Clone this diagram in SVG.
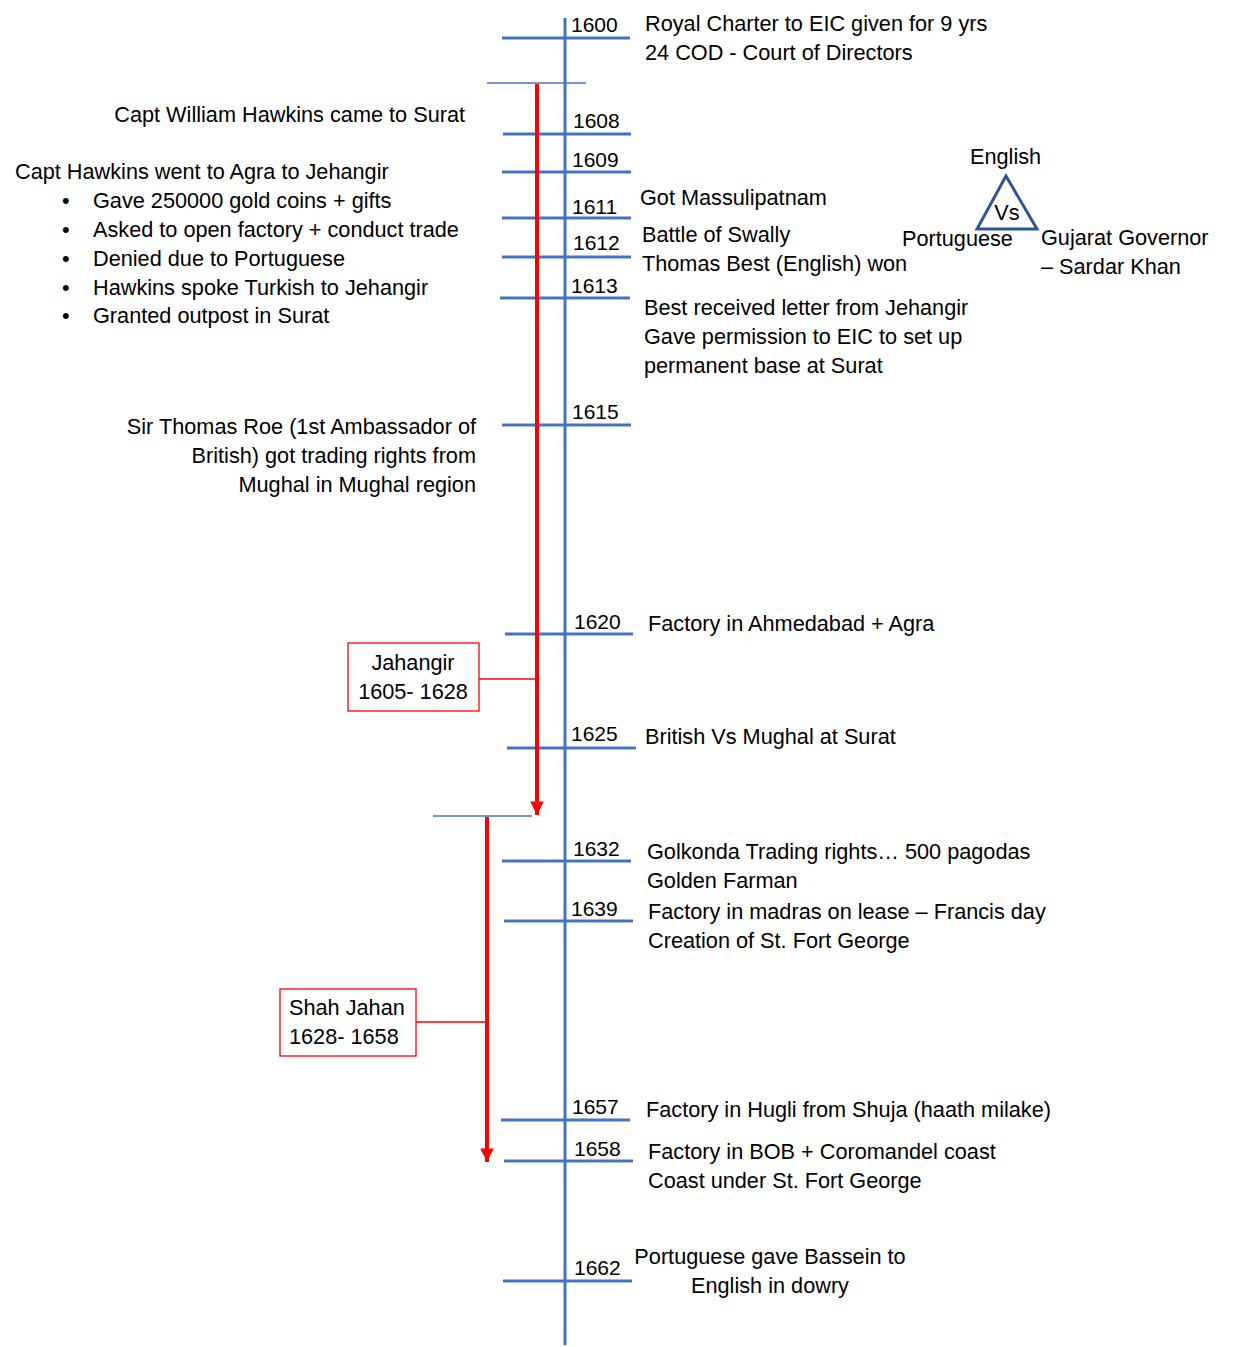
<svg xmlns="http://www.w3.org/2000/svg" width="1236" height="1347" viewBox="0 0 1236 1347">
<style>
text{font-family:"Liberation Sans",Arial,sans-serif;font-size:21.7px;fill:#000}
.y{font-size:21px}
.r{text-anchor:end}
.m{text-anchor:middle}
.tick{stroke:#4472C4;stroke-width:3;fill:none}
.thin{stroke:#4472C4;stroke-width:1.3;fill:none}
.red{stroke:#FF0000;stroke-width:4;fill:none}
.redthin{stroke:#FF0000;stroke-width:1.3;fill:none}
.box{fill:#fff;stroke:#FF0000;stroke-width:1.3}
</style>
<defs>
<marker id="ah" viewBox="0 0 10 10" refX="10" refY="5" markerWidth="3.4" markerHeight="3.4" markerUnits="strokeWidth" orient="auto">
<path d="M0,0 L10,5 L0,10 Z" fill="#FF0000"/>
</marker>
</defs>
<g id="connectors">
<line class="tick" x1="565" y1="18" x2="565" y2="1345"/>
<line class="tick" x1="502" y1="38" x2="630" y2="38"/>
<line class="tick" x1="503" y1="134" x2="631" y2="134"/>
<line class="tick" x1="502" y1="172" x2="631" y2="172"/>
<line class="tick" x1="502" y1="218" x2="631" y2="218"/>
<line class="tick" x1="502" y1="257" x2="631" y2="257"/>
<line class="tick" x1="500" y1="298" x2="630" y2="298"/>
<line class="tick" x1="502" y1="425" x2="631" y2="425"/>
<line class="tick" x1="505" y1="634" x2="633" y2="634"/>
<line class="tick" x1="507" y1="748" x2="636" y2="748"/>
<line class="tick" x1="502" y1="861" x2="631" y2="861"/>
<line class="tick" x1="504" y1="921" x2="633" y2="921"/>
<line class="tick" x1="501" y1="1120" x2="630" y2="1120"/>
<line class="tick" x1="504" y1="1161" x2="633" y2="1161"/>
<line class="tick" x1="503" y1="1281" x2="632" y2="1281"/>
<line class="thin" x1="487" y1="83" x2="586" y2="83"/>
<line class="thin" x1="433" y1="816" x2="532" y2="816"/>
<line class="red" x1="537" y1="84" x2="537" y2="815" marker-end="url(#ah)"/>
<line class="red" x1="487" y1="817" x2="487" y2="1162" marker-end="url(#ah)"/>
<line class="redthin" x1="479" y1="679" x2="537" y2="679"/>
<line class="redthin" x1="416" y1="1022" x2="487" y2="1022"/>
</g>
<g id="years">
<text class="y" x="571" y="32">1600</text>
<text class="y" x="573" y="128">1608</text>
<text class="y" x="572" y="167">1609</text>
<text class="y" x="572" y="214">1611</text>
<text class="y" x="573" y="250">1612</text>
<text class="y" x="571" y="293">1613</text>
<text class="y" x="572" y="419">1615</text>
<text class="y" x="574" y="629">1620</text>
<text class="y" x="571" y="741">1625</text>
<text class="y" x="573" y="856">1632</text>
<text class="y" x="571" y="916">1639</text>
<text class="y" x="572" y="1114">1657</text>
<text class="y" x="574" y="1156">1658</text>
<text class="y" x="574" y="1275">1662</text>
</g>
<g id="e1600">
<text x="645" y="31">Royal Charter to EIC given for 9 yrs</text>
<text x="645" y="60">24 COD - Court of Directors</text>
</g>
<g id="e1608"><text class="r" x="465" y="122">Capt William Hawkins came to Surat</text></g>
<g id="e1609">
<text x="15" y="179">Capt Hawkins went to Agra to Jehangir</text>
<text x="62" y="208">•</text><text x="93" y="208">Gave 250000 gold coins + gifts</text>
<text x="62" y="237">•</text><text x="93" y="237">Asked to open factory + conduct trade</text>
<text x="62" y="266">•</text><text x="93" y="266">Denied due to Portuguese</text>
<text x="62" y="295">•</text><text x="93" y="295">Hawkins spoke Turkish to Jehangir</text>
<text x="62" y="323">•</text><text x="93" y="323">Granted outpost in Surat</text>
</g>
<g id="e1611"><text x="640" y="205">Got Massulipatnam</text></g>
<g id="e1612">
<text x="642" y="242">Battle of Swally</text>
<text x="642" y="271">Thomas Best (English) won</text>
</g>
<g id="triangle">
<polygon points="1006,176 977,229 1037,229" fill="none" stroke="#2F5597" stroke-width="3"/>
<text x="970" y="164">English</text>
<text class="m" x="1007" y="220">Vs</text>
<text x="902" y="246">Portuguese</text>
<text x="1041" y="245">Gujarat Governor</text>
<text x="1041" y="274">– Sardar Khan</text>
</g>
<g id="e1613">
<text x="644" y="315">Best received letter from Jehangir</text>
<text x="644" y="344">Gave permission to EIC to set up</text>
<text x="644" y="373">permanent base at Surat</text>
</g>
<g id="e1615">
<text class="r" x="476" y="434">Sir Thomas Roe (1st Ambassador of</text>
<text class="r" x="476" y="463">British) got trading rights from</text>
<text class="r" x="476" y="492">Mughal in Mughal region</text>
</g>
<g id="e1620"><text x="648" y="631">Factory in Ahmedabad + Agra</text></g>
<g id="jahangir">
<rect class="box" x="348" y="643" width="131" height="68"/>
<text class="m" x="413" y="670">Jahangir</text>
<text class="m" x="413" y="699">1605- 1628</text>
</g>
<g id="e1625"><text x="645" y="744">British Vs Mughal at Surat</text></g>
<g id="e1632">
<text x="647" y="859">Golkonda Trading rights… 500 pagodas</text>
<text x="647" y="888">Golden Farman</text>
</g>
<g id="e1639">
<text x="648" y="919">Factory in madras on lease – Francis day</text>
<text x="648" y="948">Creation of St. Fort George</text>
</g>
<g id="shahjahan">
<rect class="box" x="280" y="989" width="136" height="67"/>
<text x="289" y="1015">Shah Jahan</text>
<text x="289" y="1044">1628- 1658</text>
</g>
<g id="e1657"><text x="646" y="1117">Factory in Hugli from Shuja (haath milake)</text></g>
<g id="e1658">
<text x="648" y="1159">Factory in BOB + Coromandel coast</text>
<text x="648" y="1188">Coast under St. Fort George</text>
</g>
<g id="e1662">
<text class="m" x="770" y="1264">Portuguese gave Bassein to</text>
<text class="m" x="770" y="1293">English in dowry</text>
</g>
</svg>
